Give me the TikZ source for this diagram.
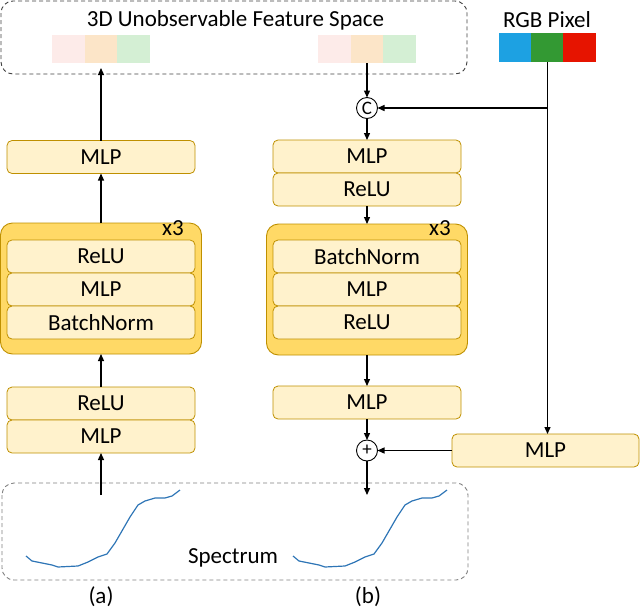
\documentclass[tikz,border=0pt]{standalone}
\usepackage{fontspec}
\setmainfont{Carlito}
\usetikzlibrary{arrows.meta}
\definecolor{boxfill}{RGB}{255,242,204}
\definecolor{boxdraw}{RGB}{191,144,0}
\definecolor{bigfill}{RGB}{255,217,102}
\definecolor{sqpink}{RGB}{253,235,233}
\definecolor{sqorange}{RGB}{252,229,200}
\definecolor{sqgreen}{RGB}{212,239,212}
\definecolor{rgbblue}{RGB}{29,161,226}
\definecolor{rgbgreen}{RGB}{51,153,51}
\definecolor{rgbred}{RGB}{230,20,0}
\definecolor{specblue}{RGB}{46,117,182}
\begin{document}
\begin{tikzpicture}[x=1pt,y=-1pt,
 every node/.style={font=\fontsize{23}{27}\selectfont, inner sep=0pt, outer sep=0pt},
 layer/.style={draw=boxdraw, fill=boxfill, rounded corners=5pt, minimum width=188pt, minimum height=33pt, line width=0.8pt},
 bigbox/.style={draw=boxdraw, fill=bigfill, rounded corners=12pt, minimum width=201pt, minimum height=131pt, line width=0.9pt},
 sq/.style={minimum width=32.7pt, minimum height=28pt},
 op/.style={draw, circle, minimum size=21pt, line width=0.9pt, font=\fontsize{19}{21}\selectfont},
 arr/.style={-{Triangle[length=7pt,width=6pt]}, line width=1.3pt},
 dbox/.style={dash pattern=on 4pt off 3pt, rounded corners=12pt, line width=0.9pt}]
\useasboundingbox (0,0) rectangle (640,611);
% dashed containers
\draw[dbox, draw=black!75] (1,1) rectangle (467,74);
\draw[dbox, draw=black!50] (2,483) rectangle (468,580);
% feature squares
\node[sq, fill=sqpink] (Lp) at (68.3,49) {};
\node[sq, fill=sqorange] (Lo) at (101,49) {};
\node[sq, fill=sqgreen] (Lg) at (133.7,49) {};
\node[sq, fill=sqpink] (Rp) at (334.3,49) {};
\node[sq, fill=sqorange] (Ro) at (367,49) {};
\node[sq, fill=sqgreen] (Rg) at (399.7,49) {};
% RGB pixel
\node[sq, minimum height=29pt, fill=rgbblue] (RGBb) at (515.2,47.5) {};
\node[sq, minimum height=29pt, fill=rgbgreen] (RGBg) at (547.5,47.5) {};
\node[sq, minimum height=29pt, fill=rgbred] (RGBr) at (579.8,47.5) {};
% labels
\node (title) at (235.5,20) {3D Unobservable Feature Space};
\node (rgblabel) at (547,20) {RGB Pixel};
\node (spec) at (233,558) {Spectrum};
\node (la) at (101,597) {(a)};
\node (lb) at (368,597) {(b)};
% left column
\node[layer] (LMLPt) at (101,157) {MLP};
\node[bigbox] (Lbig) at (101,288.5) {};
\node[layer] (LReLU1) at (101,256.5) {ReLU};
\node[layer] (LMLP1) at (101,289.5) {MLP};
\node[layer] (LBN) at (101,322.5) {BatchNorm};
\node (Lx3) at (173,228) {x3};
\node[layer] (LReLU2) at (101,403.5) {ReLU};
\node[layer] (LMLP2) at (101,436.5) {MLP};
\coordinate (Lin) at (101,495);
% right column
\node[layer] (RMLPa) at (367,156.5) {MLP};
\node[layer] (RReLUa) at (367,189.5) {ReLU};
\node[bigbox] (Rbig) at (367,289.5) {};
\node[layer] (RBN) at (367,256.5) {BatchNorm};
\node[layer] (RMLP1) at (367,289.5) {MLP};
\node[layer] (RReLU1) at (367,322.5) {ReLU};
\node (Rx3) at (440,228) {x3};
\node[layer] (RMLPb) at (367,402.5) {MLP};
\node[op] (plus) at (367,450.5) {+};
\node[op] (cat) at (367,108) {C};
\node[layer, minimum width=187pt] (MLPr) at (545.5,450.5) {MLP};
\coordinate (Rout) at (367,495);
% connectors left
\draw[arr, shorten >=5pt] (LMLPt.north) -- (Lo.south);
\draw[arr] (Lbig.north) -- (LMLPt.south);
\draw[arr] (LReLU2.north) -- (Lbig.south);
\draw[arr] (Lin) -- (LMLP2.south);
% connectors right
\draw[arr] (Ro.south) -- (cat.north);
\draw[arr] (cat.south) -- (RMLPa.north);
\draw[arr] (RReLUa.south) -- (Rbig.north);
\draw[arr] (Rbig.south) -- (RMLPb.north);
\draw[arr] (RMLPb.south) -- (plus.north);
\draw[arr] (plus.south) -- (Rout);
\draw[arr] (RGBg.south) -- (RGBg.south |- MLPr.north);
\draw[arr] (RGBg.south |- cat.east) -- (cat.east);
\draw[arr] (MLPr.west) -- (plus.east);
% spectrum curves
\foreach \dx in {0,267}{
\draw[specblue, line width=1.2pt, line join=round, shift={(\dx,0)}] plot coordinates {(26,556) (32,561) (42,563) (52,565) (58,567) (78,566) (88,562) (98,557) (107,554) (115,543) (130,517) (138,505) (145,501) (155,498) (165,498) (172,496) (180,490)};
}
\end{tikzpicture}
\end{document}
